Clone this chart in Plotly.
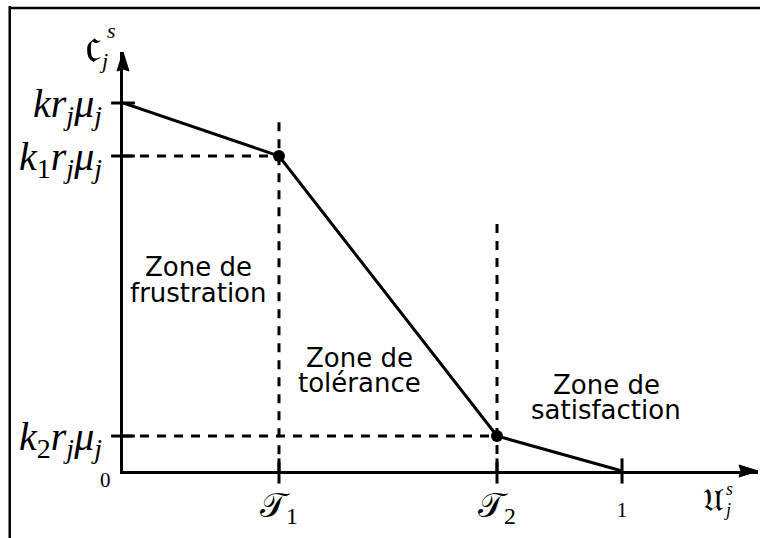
import plotly.graph_objects as go

# ---------------- data ----------------
T1 = 0.3126          # first threshold on the U axis
T2 = 0.7495          # second threshold on the U axis
K_LEVEL = 1.0        # k r_j mu_j
K1_LEVEL = 0.856     # k1 r_j mu_j
K2_LEVEL = 0.095     # k2 r_j mu_j

curve_x = [0.0, T1, T2, 1.0]
curve_y = [K_LEVEL, K1_LEVEL, K2_LEVEL, 0.0]
knot_x = [T1, T2]
knot_y = [K1_LEVEL, K2_LEVEL]

x_tick_vals = [T1, T2, 1.0]
x_tick_text = ["𝒯<sub>1</sub>", "𝒯<sub>2</sub>", "<span style='font-size:22px'>1</span>"]
y_tick_vals = [K_LEVEL, K1_LEVEL, K2_LEVEL]
y_tick_text = [
    "<i>kr</i><sub><i>j</i></sub><i>μ</i><sub><i>j</i></sub>",
    "<i>k</i><sub>1</sub><i>r</i><sub><i>j</i></sub><i>μ</i><sub><i>j</i></sub>",
    "<i>k</i><sub>2</sub><i>r</i><sub><i>j</i></sub><i>μ</i><sub><i>j</i></sub>",
]

zone_line1 = ["Zone de", "Zone de", "Zone de"]
zone_line2 = ["frustration", "tolérance", "satisfaction"]
zone_x = [0.152, 0.473, 0.968]
zone_y1 = [0.554, 0.307, 0.234]
zone_y2 = [0.484, 0.239, 0.166]

guide_top_T1 = 0.948
guide_top_T2 = 0.671

X_MAX = 1.2725
Y_MAX = 1.1386

# ---------------- figure ----------------
BLACK = "#000000"
LW = 3
SERIF = "Liberation Serif, DejaVu Serif, serif"
SANS = "DejaVu Sans, Verdana, sans-serif"

fig = go.Figure()

# dashed guides
dash = dict(color=BLACK, width=LW, dash="9px,8px")
fig.add_trace(go.Scatter(x=[T1, T1], y=[guide_top_T1, 0], mode="lines", line=dash, hoverinfo="skip"))
fig.add_trace(go.Scatter(x=[T2, T2], y=[guide_top_T2, 0], mode="lines", line=dash, hoverinfo="skip"))
fig.add_trace(go.Scatter(x=[0, T1], y=[K1_LEVEL, K1_LEVEL], mode="lines", line=dash, hoverinfo="skip"))
fig.add_trace(go.Scatter(x=[0, T2], y=[K2_LEVEL, K2_LEVEL], mode="lines", line=dash, hoverinfo="skip"))

# main curve
fig.add_trace(go.Scatter(x=curve_x, y=curve_y, mode="lines", line=dict(color=BLACK, width=LW)))
fig.add_trace(go.Scatter(x=knot_x, y=knot_y, mode="markers",
                         marker=dict(color=BLACK, size=12)))

# crossing tick marks
fig.add_trace(go.Scatter(x=x_tick_vals, y=[0] * len(x_tick_vals), mode="markers", cliponaxis=False,
                         marker=dict(symbol="line-ns", size=18, line=dict(color=BLACK, width=LW))))
fig.add_trace(go.Scatter(x=[0] * len(y_tick_vals), y=y_tick_vals, mode="markers", cliponaxis=False,
                         marker=dict(symbol="line-ew", size=17, line=dict(color=BLACK, width=LW))))

# zone labels
for xs, l1, l2, y1, y2 in zip(zone_x, zone_line1, zone_line2, zone_y1, zone_y2):
    fig.add_annotation(x=xs, y=y1, text=l1, showarrow=False, font=dict(family=SANS, size=26, color=BLACK))
    fig.add_annotation(x=xs, y=y2, text=l2, showarrow=False, font=dict(family=SANS, size=26, color=BLACK))

# origin label and axis titles
fig.add_annotation(x=0, y=0, text="0", showarrow=False, xanchor="center", yanchor="middle",
                   xshift=-18, yshift=-9, font=dict(family=SERIF, size=21, color=BLACK))
fig.add_annotation(x=0, y=Y_MAX, text="𝔠", showarrow=False, xanchor="center", yanchor="middle",
                   xshift=-30, yshift=8, font=dict(family=SERIF, size=52, color=BLACK))
fig.add_annotation(x=0, y=Y_MAX, text="<i>s</i>", showarrow=False, xanchor="center", yanchor="middle",
                   xshift=-12, yshift=22, font=dict(family=SERIF, size=22, color=BLACK))
fig.add_annotation(x=0, y=Y_MAX, text="<i>j</i>", showarrow=False, xanchor="center", yanchor="middle",
                   xshift=-20, yshift=-8, font=dict(family=SERIF, size=22, color=BLACK))
fig.add_annotation(x=X_MAX, y=0, text="𝔘", showarrow=False, xanchor="center", yanchor="middle",
                   xshift=-45, yshift=-29, font=dict(family=SERIF, size=32, color=BLACK))
fig.add_annotation(x=X_MAX, y=0, text="<i>s</i>", showarrow=False, xanchor="center", yanchor="middle",
                   xshift=-29, yshift=-18, font=dict(family=SERIF, size=18, color=BLACK))
fig.add_annotation(x=X_MAX, y=0, text="<i>j</i>", showarrow=False, xanchor="center", yanchor="middle",
                   xshift=-31, yshift=-39, font=dict(family=SERIF, size=18, color=BLACK))

# arrowheads at the axis ends (pixel-sized paths, paper-anchored so they are not clipped)
fig.add_shape(type="path", xref="paper", yref="paper", xsizemode="pixel", ysizemode="pixel",
              xanchor=0, yanchor=1, path="M0,0 L-6,-19 L0,-17 L6,-19 Z",
              fillcolor=BLACK, line=dict(color=BLACK, width=1))
fig.add_shape(type="path", xref="paper", yref="paper", xsizemode="pixel", ysizemode="pixel",
              xanchor=1, yanchor=0, path="M0,0 L-19,6 L-17,0 L-19,-6 Z",
              fillcolor=BLACK, line=dict(color=BLACK, width=1))

# outer frame (top and left edges)
fig.add_shape(type="line", xref="paper", yref="paper", x0=-0.1784, x1=1.05, y0=1.105, y1=1.105,
              line=dict(color=BLACK, width=2.5))
fig.add_shape(type="line", xref="paper", yref="paper", x0=-0.1784, x1=-0.1784, y0=1.11, y1=-0.25,
              line=dict(color=BLACK, width=2.5))

fig.update_layout(
    width=760, height=538,
    margin=dict(l=123, r=2, t=52, b=67, autoexpand=False),
    paper_bgcolor="white", plot_bgcolor="white",
    showlegend=False,
    xaxis=dict(range=[0, X_MAX], showgrid=False, zeroline=False, showline=True, linecolor=BLACK,
               linewidth=LW, tickvals=x_tick_vals, ticktext=x_tick_text, ticks="", automargin=False,
               tickfont=dict(family=SERIF, size=34, color=BLACK), ticklabelstandoff=2, fixedrange=True),
    yaxis=dict(range=[0, Y_MAX], showgrid=False, zeroline=False, showline=True, linecolor=BLACK,
               linewidth=LW, tickvals=y_tick_vals, ticktext=y_tick_text, ticks="", automargin=False,
               tickfont=dict(family=SERIF, size=40, color=BLACK), ticklabelstandoff=10, fixedrange=True),
)

# remove the default page margin so the 760x538 figure fills the window exactly
fig.write_html("out.html",
               config={"displayModeBar": False},
               post_script="document.body.style.margin='0';document.body.style.overflow='hidden';")
